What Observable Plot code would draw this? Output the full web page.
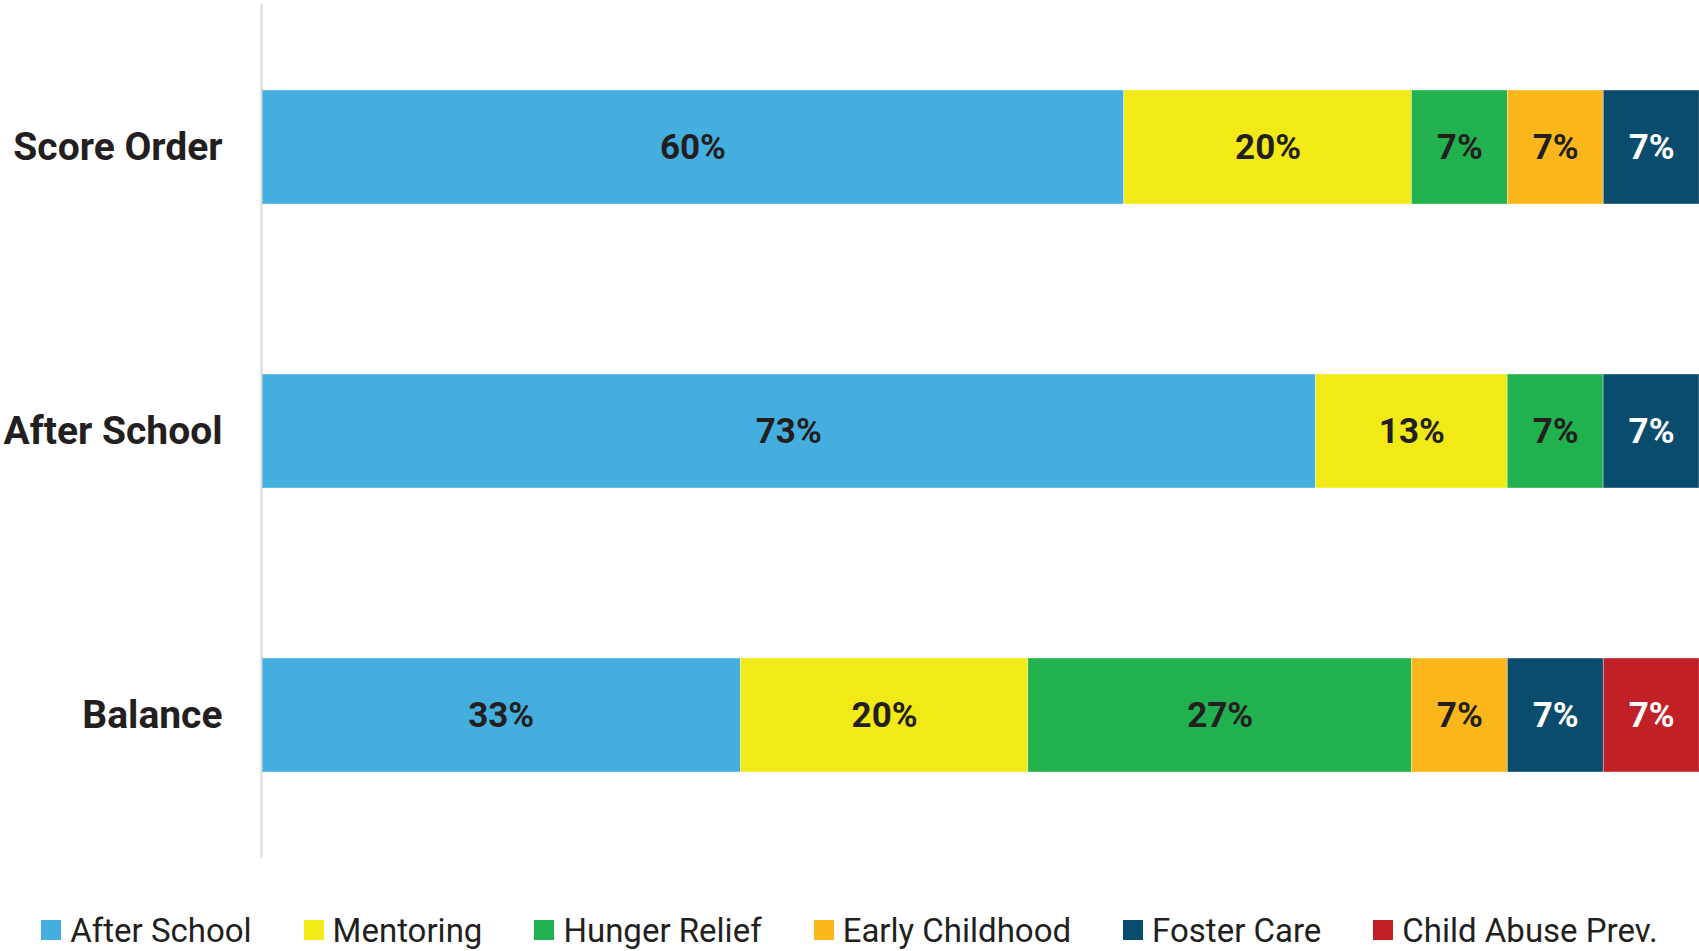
<!DOCTYPE html>
<html>
<head>
<meta charset="utf-8">
<script src="https://cdn.jsdelivr.net/npm/d3@7"></script>
<script src="https://cdn.jsdelivr.net/npm/@observablehq/plot@0.6"></script>
<style>
  html, body { margin: 0; padding: 0; background: #fff; }
  body { width: 1699px; height: 951px; overflow: hidden; font-family: Roboto, "Noto Sans", sans-serif; }
  #chart svg { display: block; }
  #legend { display: flex; justify-content: center; align-items: center; gap: 52px; height: 40px; margin-top: 30px; font-family: Roboto, sans-serif; font-size: 33px; color: #231F20; }
  .item { display: flex; align-items: center; gap: 9px; white-space: nowrap; }
  .sw { width: 20px; height: 20px; display: inline-block; }
</style>
</head>
<body>
<div id="chart"></div>
<div id="legend"></div>
<script>
const groups = ["Score Order", "After School", "Balance"];
const programs = ["After School", "Mentoring", "Hunger Relief", "Early Childhood", "Foster Care", "Child Abuse Prev."];
const colors = ["#44AFDF", "#F2EA16", "#21B14F", "#FBB71B", "#0A4C6D", "#C02026"];
const labelColors = ["#231F20", "#231F20", "#231F20", "#231F20", "#FFFFFF", "#FFFFFF"];
const scoreOrder = [60, 20, 6.67, 6.67, 6.67, 0];
const afterSchool = [73.33, 13.33, 6.67, 0, 6.67, 0];
const balance = [33.33, 20, 26.67, 6.67, 6.67, 6.67];

const series = [scoreOrder, afterSchool, balance];
const data = [];
groups.forEach((g, gi) => {
  programs.forEach((p, pi) => {
    const v = series[gi][pi];
    if (v > 0) data.push({group: g, program: p, value: v, label: labelColors[pi]});
  });
});

const chart = Plot.plot({
  width: 1699,
  height: 880,
  marginLeft: 261,
  marginRight: 0,
  marginTop: 4,
  marginBottom: 22,
  style: {fontFamily: "Roboto, sans-serif", background: "#fff"},
  x: {domain: [0, 100], axis: null},
  y: {domain: groups, paddingInner: 0.6, paddingOuter: 0.3, label: null},
  color: {domain: programs, range: colors},
  marks: [
    Plot.barX(data, Plot.stackX({x: "value", y: "group", fill: "program", stroke: "white", strokeWidth: 0.6, strokeOpacity: 0.6})),
    Plot.text(data, Plot.stackX({x: "value", y: "group", text: d => Math.round(d.value) + "%", fill: "label", fontSize: 35, fontWeight: "bold", fontFamily: "Roboto, sans-serif"})),
    Plot.ruleX([0], {stroke: "#D9D9D9", strokeWidth: 2}),
    Plot.axisY({tickSize: 0, tickPadding: 39, fontSize: 39, fontWeight: "bold", fill: "#231F20", label: null})
  ]
});
document.getElementById("chart").appendChild(chart);

const legend = document.getElementById("legend");
programs.forEach((p, i) => {
  const item = document.createElement("div");
  item.className = "item";
  const sw = document.createElement("span");
  sw.className = "sw";
  sw.style.background = colors[i];
  const lab = document.createElement("span");
  lab.textContent = p;
  item.appendChild(sw);
  item.appendChild(lab);
  legend.appendChild(item);
});
</script>
</body>
</html>
